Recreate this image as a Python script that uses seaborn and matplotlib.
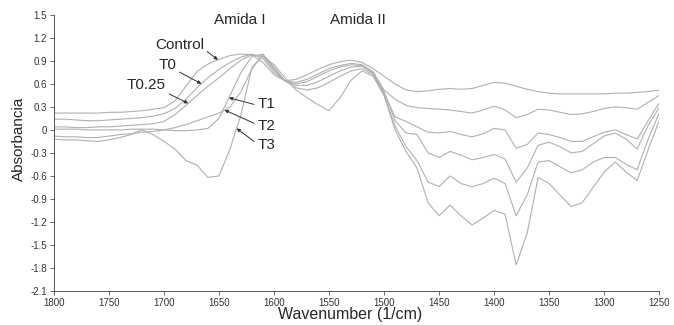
import numpy as np
import pandas as pd
import seaborn as sns
import matplotlib
matplotlib.use("Agg")
import matplotlib.pyplot as plt

# wavenumber grid (1/cm), 1800 -> 1250
wavenumber = np.arange(1800, 1249, -10)

control = [0.22, 0.22, 0.22, 0.22, 0.22, 0.23, 0.23, 0.24, 0.25, 0.27,
           0.29, 0.38, 0.57, 0.76, 0.86, 0.92, 0.97, 0.99, 0.98, 0.88,
           0.72, 0.64, 0.66, 0.72, 0.79, 0.85, 0.89, 0.91, 0.88, 0.80,
           0.70, 0.60, 0.52, 0.50, 0.51, 0.53, 0.54, 0.53, 0.54, 0.58,
           0.62, 0.61, 0.57, 0.53, 0.50, 0.48, 0.47, 0.47, 0.47, 0.47,
           0.47, 0.48, 0.48, 0.49, 0.50, 0.52]
t0 = [0.14, 0.14, 0.13, 0.12, 0.12, 0.13, 0.14, 0.15, 0.16, 0.18,
      0.21, 0.28, 0.40, 0.55, 0.68, 0.79, 0.88, 0.95, 0.99, 0.93,
      0.75, 0.64, 0.62, 0.66, 0.73, 0.80, 0.84, 0.87, 0.85, 0.76,
      0.52, 0.40, 0.32, 0.29, 0.28, 0.27, 0.26, 0.24, 0.22, 0.26,
      0.31, 0.26, 0.16, 0.20, 0.27, 0.26, 0.23, 0.20, 0.21, 0.24,
      0.28, 0.30, 0.29, 0.27, 0.36, 0.45]
t025 = [0.04, 0.04, 0.03, 0.03, 0.04, 0.04, 0.05, 0.06, 0.07, 0.08,
        0.11, 0.20, 0.32, 0.45, 0.57, 0.68, 0.80, 0.91, 0.98, 0.96,
        0.78, 0.64, 0.60, 0.63, 0.70, 0.77, 0.82, 0.85, 0.84, 0.74,
        0.48, 0.17, 0.11, 0.04, -0.03, -0.04, -0.02, -0.06, -0.09, -0.05,
        0.02, 0.00, -0.24, -0.19, -0.04, -0.06, -0.10, -0.15, -0.15, -0.09,
        -0.03, 0.00, -0.06, -0.12, 0.12, 0.35]
t1 = [0.01, 0.01, 0.01, 0.00, 0.00, 0.00, 0.00, 0.01, 0.01, 0.01,
      0.00, -0.01, -0.01, 0.00, 0.02, 0.15, 0.45, 0.75, 0.96, 0.99,
      0.80, 0.64, 0.58, 0.58, 0.63, 0.70, 0.77, 0.82, 0.83, 0.74,
      0.50, 0.12, -0.04, -0.06, -0.30, -0.36, -0.28, -0.33, -0.39, -0.36,
      -0.32, -0.38, -0.68, -0.50, -0.20, -0.16, -0.22, -0.30, -0.28, -0.18,
      -0.08, -0.04, -0.12, -0.25, 0.06, 0.29]
t2 = [-0.08, -0.09, -0.09, -0.10, -0.10, -0.08, -0.06, -0.05, -0.03, -0.02,
      0.00, 0.03, 0.07, 0.12, 0.17, 0.22, 0.30, 0.50, 0.80, 0.98,
      0.82, 0.64, 0.55, 0.52, 0.55, 0.62, 0.70, 0.77, 0.80, 0.72,
      0.45, 0.05, -0.22, -0.40, -0.68, -0.74, -0.60, -0.70, -0.74, -0.70,
      -0.63, -0.70, -1.12, -0.85, -0.42, -0.40, -0.48, -0.56, -0.52, -0.42,
      -0.36, -0.36, -0.45, -0.52, -0.12, 0.22]
t3 = [-0.12, -0.13, -0.13, -0.14, -0.15, -0.13, -0.10, -0.06, 0.00, -0.06,
      -0.15, -0.25, -0.40, -0.46, -0.62, -0.60, -0.25, 0.20, 0.82, 0.97,
      0.85, 0.68, 0.52, 0.42, 0.33, 0.25, 0.42, 0.65, 0.77, 0.70,
      0.45, 0.00, -0.28, -0.50, -0.95, -1.12, -0.98, -1.12, -1.24, -1.15,
      -1.05, -1.10, -1.76, -1.35, -0.62, -0.70, -0.85, -1.00, -0.95, -0.75,
      -0.55, -0.42, -0.55, -0.66, -0.26, 0.12]

samples = ["Control", "T0", "T0.25", "T1", "T2", "T3"]
series = [control, t0, t025, t1, t2, t3]

df = pd.concat(
    [pd.DataFrame({"wavenumber": wavenumber, "absorbance": s, "sample": name})
     for name, s in zip(samples, series)],
    ignore_index=True,
)

sns.set_style("ticks")
plt.rcParams["font.family"] = ["Liberation Sans", "DejaVu Sans"]

fig = plt.figure(figsize=(6.74, 3.25), dpi=100)
ax = fig.add_axes([0.080, 0.105, 0.898, 0.849])

sns.lineplot(data=df, x="wavenumber", y="absorbance", hue="sample",
             palette=["#b0b0b0"] * 6, estimator=None, sort=False,
             linewidth=0.8, legend=False, ax=ax)

ax.set_xlim(1800, 1250)
ax.set_ylim(-2.1, 1.5)
ax.set_xticks(np.arange(1800, 1249, -50))
yt = np.round(np.arange(-2.1, 1.51, 0.3), 1)
ax.set_yticks(yt)
ax.set_yticklabels(["0" if v == 0 else f"{v:.1f}" for v in yt])
ax.tick_params(labelsize=7, length=3, width=0.6, colors="#555555",
               labelcolor="#333333", pad=2)
for side in ["top", "right"]:
    ax.spines[side].set_visible(False)
for side in ["left", "bottom"]:
    ax.spines[side].set_color("#555555")
    ax.spines[side].set_linewidth(0.7)

ax.set_xlabel("Wavenumber (1/cm)", fontsize=11.5)
ax.xaxis.set_label_coords(0.49, -0.058, transform=ax.transAxes)
ax.set_ylabel("Absorbancia", fontsize=11)
ax.yaxis.set_label_coords(-0.046, 0.55, transform=ax.transAxes)

# band labels
ax.text(1631, 1.43, "Amida I", fontsize=11, ha="center", va="center")
ax.text(1524, 1.43, "Amida II", fontsize=11, ha="center", va="center")

# curve labels with arrows: (label, tip wavenumber, text x, text y, relpos)
notes = [
    ("Control", 1651, 1686, 1.11, (1.0, 0.2)),
    ("T0", 1666, 1697, 0.85, (1.0, 0.1)),
    ("T0.25", 1678, 1716, 0.59, (0.9, 0.1)),
    ("T1", 1641, 1607, 0.34, (0.0, 0.4)),
    ("T2", 1645, 1607, 0.05, (0.0, 0.6)),
    ("T3", 1634, 1607, -0.20, (0.0, 0.6)),
]
for (name, tip, tx, ty, rp) in notes:
    s = series[samples.index(name)]
    tip_y = np.interp(tip, wavenumber[::-1], np.array(s)[::-1])
    ax.annotate(name, xy=(tip, tip_y), xytext=(tx, ty), fontsize=11,
                ha="center", va="center",
                arrowprops=dict(arrowstyle="-|>", color="#333333", lw=0.7,
                                mutation_scale=5, shrinkA=0, shrinkB=0,
                                relpos=rp))

fig.savefig("out.png", dpi=100)
